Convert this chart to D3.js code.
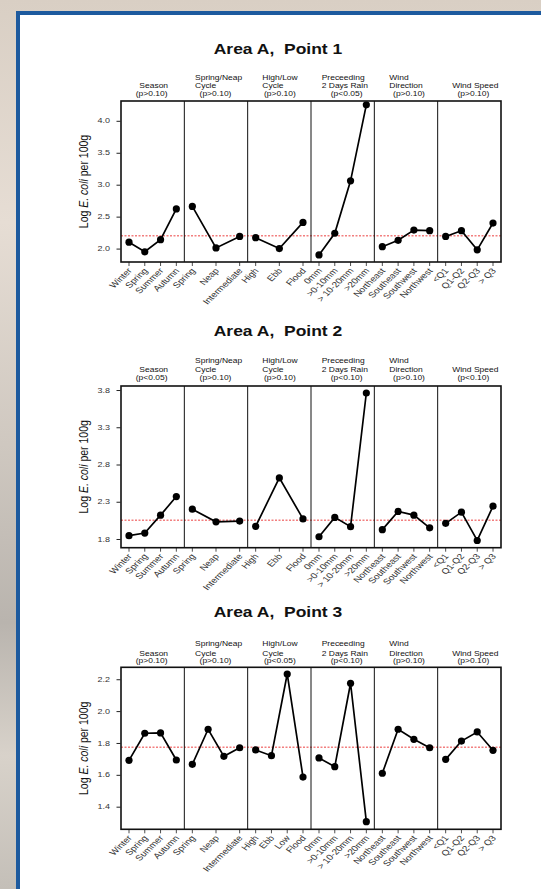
<!DOCTYPE html>
<html><head><meta charset="utf-8">
<script src="https://cdn.jsdelivr.net/npm/d3@7"></script>
<style>html,body{margin:0;padding:0;overflow:hidden;background:#fff} text{white-space:pre}</style>
</head><body>
<script>
// ---------- data ----------
const panelTitles = ["Area A,  Point 1", "Area A,  Point 2", "Area A,  Point 3"];
const headerLines = [["Season"], ["Spring/Neap", "Cycle"], ["High/Low", "Cycle"], ["Preceeding", "2 Days Rain"], ["Wind", "Direction"], ["Wind Speed"]];
const pValues1 = ["(p>0.10)", "(p>0.10)", "(p>0.10)", "(p<0.05)", "(p>0.10)", "(p>0.10)"];
const pValues2 = ["(p<0.05)", "(p>0.10)", "(p>0.10)", "(p<0.10)", "(p>0.10)", "(p<0.10)"];
const pValues3 = ["(p>0.10)", "(p>0.10)", "(p<0.05)", "(p<0.10)", "(p>0.10)", "(p>0.10)"];

const seasonCats = ["Winter", "Spring", "Summer", "Autumn"];
const springNeapCats = ["Spring", "Neap", "Intermediate"];
const tideCats3 = ["High", "Ebb", "Flood"];
const tideCats4 = ["High", "Ebb", "Low", "Flood"];
const rainCats = ["0mm", ">0-10mm", "> 10-20mm", ">20mm"];
const windDirCats = ["Northeast", "Southeast", "Southwest", "Northwest"];
const windSpeedCats = ["<Q1", "Q1-Q2", "Q2-Q3", "> Q3"];

// Point 1
const p1Season = [2.10, 1.95, 2.14, 2.62];
const p1SpringNeap = [2.66, 2.01, 2.19];
const p1Tide = [2.17, 2.00, 2.41];
const p1Rain = [1.90, 2.24, 3.06, 4.25];
const p1WindDir = [2.03, 2.13, 2.29, 2.28];
const p1WindSpeed = [2.19, 2.28, 1.98, 2.40];
const p1Mean = 2.20;
const p1Ticks = [2.0, 2.5, 3.0, 3.5, 4.0];
const p1Domain = [1.79, 4.31];

// Point 2
const p2Season = [1.845, 1.88, 2.12, 2.37];
const p2SpringNeap = [2.20, 2.03, 2.04];
const p2Tide = [1.97, 2.62, 2.07];
const p2Rain = [1.83, 2.09, 1.965, 3.76];
const p2WindDir = [1.925, 2.17, 2.12, 1.95];
const p2WindSpeed = [2.01, 2.16, 1.78, 2.24];
const p2Mean = 2.05;
const p2Ticks = [1.8, 2.3, 2.8, 3.3, 3.8];
const p2Domain = [1.683, 3.854];

// Point 3
const p3Season = [1.691, 1.861, 1.863, 1.693];
const p3SpringNeap = [1.666, 1.886, 1.716, 1.770];
const p3Tide = [1.756, 1.72, 2.233, 1.586];
const p3Rain = [1.706, 1.651, 2.175, 1.306];
const p3WindDir = [1.61, 1.886, 1.823, 1.77];
const p3WindSpeed = [1.697, 1.812, 1.869, 1.754];
const p3Mean = 1.773;
const p3Ticks = [1.4, 1.6, 1.8, 2.0, 2.2];
const p3Domain = [1.258, 2.275];

const panels = [
  { title: panelTitles[0], p: pValues1, mean: p1Mean, ticks: p1Ticks, domain: p1Domain,
    facets: [[seasonCats, p1Season], [springNeapCats, p1SpringNeap], [tideCats3, p1Tide], [rainCats, p1Rain], [windDirCats, p1WindDir], [windSpeedCats, p1WindSpeed]] },
  { title: panelTitles[1], p: pValues2, mean: p2Mean, ticks: p2Ticks, domain: p2Domain,
    facets: [[seasonCats, p2Season], [springNeapCats, p2SpringNeap], [tideCats3, p2Tide], [rainCats, p2Rain], [windDirCats, p2WindDir], [windSpeedCats, p2WindSpeed]] },
  { title: panelTitles[2], p: pValues3, mean: p3Mean, ticks: p3Ticks, domain: p3Domain,
    facets: [[seasonCats, p3Season], [springNeapCats, p3SpringNeap], [tideCats4, p3Tide], [rainCats, p3Rain], [windDirCats, p3WindDir], [windSpeedCats, p3WindSpeed]] }
];

// ---------- layout ----------
const W = 541, H = 889;
const SX = 1.25; // horizontal stretch of lettering
const plotLeft = 121, plotRight = 501;
const layout = [
  { top: 101, bottom: 262, titleY: 54, hdr: [-23.7, -15, -7.7] },
  { top: 386, bottom: 547.7, titleY: 336, hdr: [-25.3, -16.7, -8.3] },
  { top: 667.3, bottom: 829.3, titleY: 617, hdr: [-23.3, -14, -6.3] }
];
const FONT = "'Liberation Sans', Arial, Helvetica, sans-serif";

const svg = d3.select("body").append("svg").attr("width", W).attr("height", H);

// background
const defs = svg.append("defs");
const gr = defs.append("linearGradient").attr("id", "bg").attr("x1", 0).attr("y1", 0).attr("x2", 0).attr("y2", 1);
[["0%", "#d9cfc4"], ["25%", "#e6ddd4"], ["50%", "#cfc8c0"], ["70%", "#b9b4ae"], ["85%", "#d8d2ca"], ["100%", "#c4bfb8"]]
  .forEach(([o, c]) => gr.append("stop").attr("offset", o).attr("stop-color", c));
svg.append("rect").attr("width", W).attr("height", H).attr("fill", "url(#bg)");
svg.append("rect").attr("x", 18).attr("y", 13).attr("width", W).attr("height", H)
  .attr("fill", "#fff").attr("stroke", "#1d5a9e").attr("stroke-width", 4);

function stext(g, x, y, str, size, anchor, rot, weight) {
  return g.append("text")
    .attr("transform", `translate(${x},${y}) scale(${SX},1)` + (rot ? ` rotate(${rot})` : ""))
    .attr("font-family", FONT).attr("font-size", size).attr("text-anchor", anchor || "middle")
    .attr("font-weight", weight || "normal").attr("fill", "#111").text(str);
}

const headStyle = [
  { lines: [[1, "middle"]], p: [-1, "middle"] },
  { lines: [[-21, "start"], [-21, "start"]], p: [-0.5, "middle"] },
  { lines: [[-17, "start"], [-17, "start"]], p: [0.5, "middle"] },
  { lines: [[-21, "start"], [-21, "start"]], p: [4, "middle"] },
  { lines: [[-16.7, "start"], [-16.7, "start"]], p: [3, "middle"] },
  { lines: [[6, "middle"]], p: [4, "middle"] }
];

const nF = 6;
const fx = d3.scaleBand().domain(d3.range(nF)).range([plotLeft, plotRight]).padding(0);

panels.forEach((pn, pi) => {
  const L = layout[pi];
  const g = svg.append("g");
  const y = d3.scaleLinear().domain(pn.domain).range([L.bottom, L.top]);

  stext(g, 278, L.titleY, pn.title, 14, "middle", 0, "bold");

  const ya = g.append("g").attr("transform", `translate(${plotLeft - 0.5},0)`)
    .call(d3.axisLeft(y).tickValues(pn.ticks).tickFormat(d3.format(".1f")).tickSize(4).tickPadding(4));
  ya.select(".domain").remove();
  ya.selectAll("line").attr("stroke", "#222");
  ya.selectAll("text").remove();
  pn.ticks.forEach(t => stext(g, plotLeft - 11, y(t) + 2.6, d3.format(".1f")(t), 7.2, "end").attr("fill", "#333"));

  const yt = g.append("text")
    .attr("transform", `translate(88,${(L.top + L.bottom) / 2}) scale(${SX},1) rotate(-90)`)
    .attr("font-family", FONT).attr("font-size", 10.5).attr("text-anchor", "middle").attr("fill", "#111");
  yt.append("tspan").text("Log ");
  yt.append("tspan").attr("font-style", "italic").text("E. coli");
  yt.append("tspan").text(" per 100g");

  g.append("line").attr("x1", plotLeft).attr("x2", plotRight).attr("y1", y(pn.mean)).attr("y2", y(pn.mean))
    .attr("stroke", "#f27f7f").attr("stroke-width", 1.5).attr("stroke-dasharray", "2,1.5");

  pn.facets.forEach(([cats, vals], fi) => {
    const x0 = fx(fi), x1 = x0 + fx.bandwidth(), cx = x0 + fx.bandwidth() / 2;
    const labX = d3.scalePoint().domain(cats).range([x0 + 8, x1 - 8]);
    const ptX = d3.scalePoint().domain(d3.range(vals.length)).range([x0 + 8, x1 - 8]);

    if (fi > 0) g.append("line").attr("x1", x0).attr("x2", x0).attr("y1", L.top).attr("y2", L.bottom)
      .attr("stroke", "#111").attr("stroke-width", 1);

    cats.forEach(c => {
      g.append("line").attr("x1", labX(c)).attr("x2", labX(c)).attr("y1", L.bottom).attr("y2", L.bottom + 4)
        .attr("stroke", "#222").attr("stroke-width", 0.8);
      stext(g, labX(c) + 3.5, L.bottom + 9, c, 8, "end", -50).attr("fill", "#333");
    });

    const line = d3.line().x((d, i) => ptX(i)).y(d => y(d));
    g.append("path").datum(vals).attr("d", line).attr("fill", "none").attr("stroke", "#000").attr("stroke-width", 1.7);
    g.selectAll(null).data(vals).enter().append("circle")
      .attr("cx", (d, i) => ptX(i)).attr("cy", d => y(d)).attr("r", 3.6).attr("fill", "#000");

    const hs = headStyle[fi];
    const lines = headerLines[fi];
    const nl = lines.length + 1;
    lines.forEach((s, li) => {
      const yy = L.top + L.hdr[3 - nl + li] + 2.4;
      stext(g, cx + hs.lines[li][0], yy, s, 6.8, hs.lines[li][1]);
    });
    stext(g, cx + hs.p[0], L.top + L.hdr[2] + 2.4, pn.p[fi], 6.8, hs.p[1]);
  });

  g.append("rect").attr("x", plotLeft).attr("y", L.top).attr("width", plotRight - plotLeft).attr("height", L.bottom - L.top)
    .attr("fill", "none").attr("stroke", "#111").attr("stroke-width", 1.6);
});
</script>
</body></html>
